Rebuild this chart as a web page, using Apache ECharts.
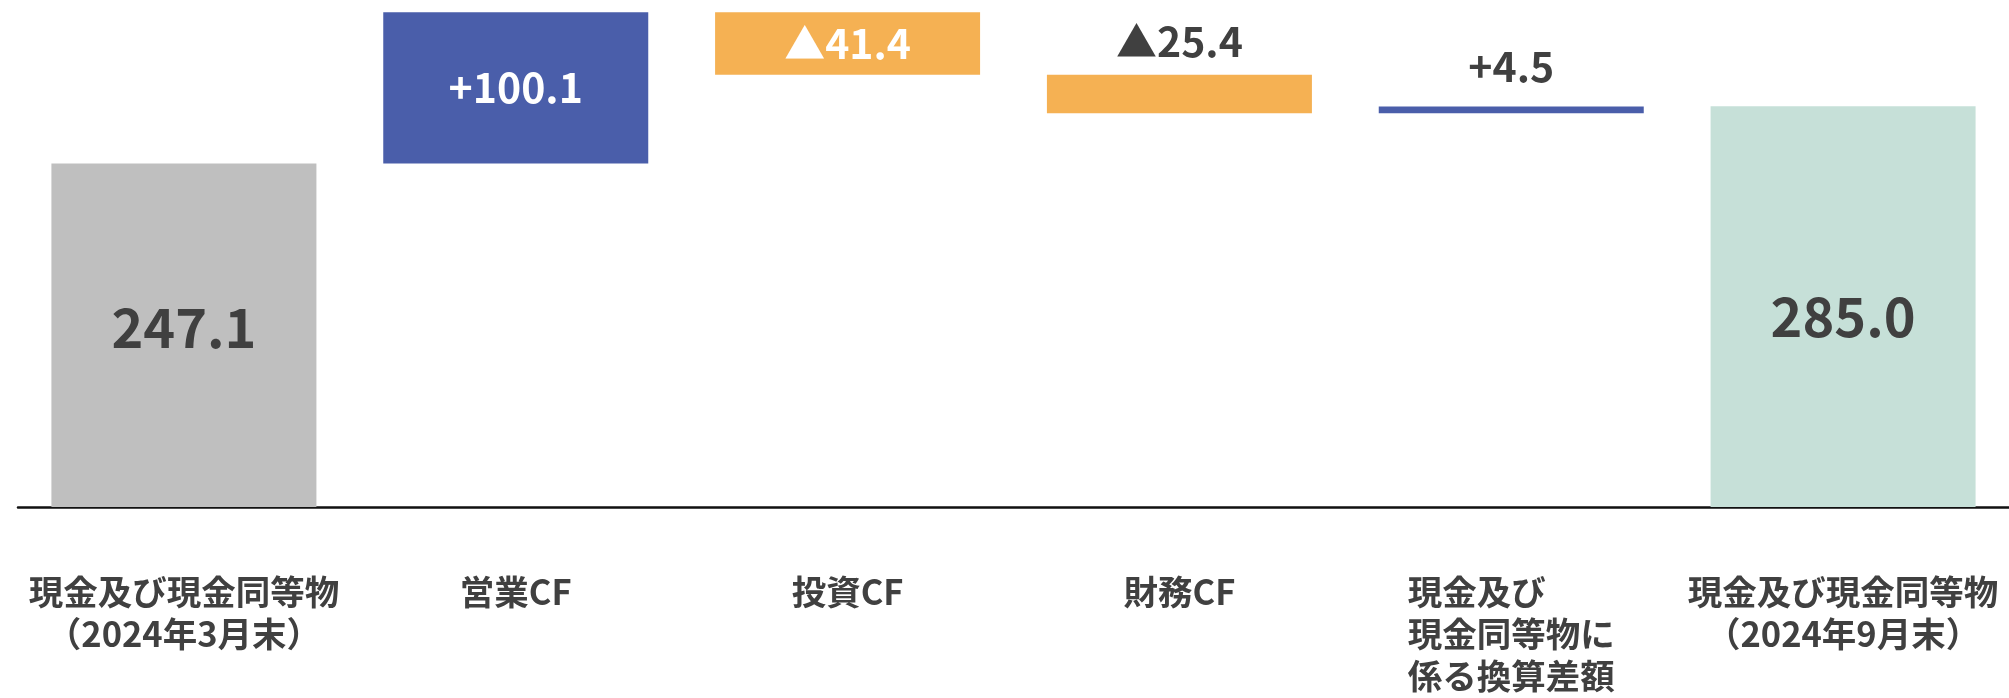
<!DOCTYPE html>
<html>
<head>
<meta charset="utf-8">
<script src="https://cdn.jsdelivr.net/npm/echarts@6/dist/echarts.min.js"></script>
<style>
  html, body { margin: 0; padding: 0; background: #ffffff; }
  #chart { width: 2009px; height: 698px; }
</style>
</head>
<body>
<div id="chart"></div>
<script>
// Cash flow bridge (億円): opening balance, movements, closing balance
const categories = [
  '現金及び現金同等物\n（2024年3月末）',
  '営業CF',
  '投資CF',
  '財務CF',
  '現金及び\n現金同等物に\n係る換算差額',
  '現金及び現金同等物\n（2024年9月末）'
];
const values = [247.1, 100.1, -41.4, -25.4, 4.5, 285.0];
const isTotal = [true, false, false, false, false, true];

const COLOR_START = '#BFBFBF';
const COLOR_END = '#C6E0D8';
const COLOR_UP = '#4A5EAA';
const COLOR_DOWN = '#F5B153';
const TEXT = '#404040';
const FONT = '"Noto Sans CJK JP", "Noto Sans", sans-serif';

// Floating bars: invisible base + visible segment
const baseData = [];
const barData = [];
let running = 0;
values.forEach((v, i) => {
  if (isTotal[i]) {
    baseData.push(0);
    running = v;
    barData.push(v);
  } else {
    const next = running + v;
    baseData.push(Math.min(running, next));
    barData.push(Math.abs(v));
    running = next;
  }
});

function labelText(i) {
  const v = values[i];
  if (isTotal[i]) return v.toFixed(1);
  return (v > 0 ? '+' : '▲') + Math.abs(v).toFixed(1);
}

const barItems = barData.map((h, i) => {
  const v = values[i];
  const color = i === 0 ? COLOR_START : (i === values.length - 1 ? COLOR_END : (v > 0 ? COLOR_UP : COLOR_DOWN));
  const thin = !isTotal[i] && Math.abs(v) < 30;
  const label = isTotal[i]
    ? { position: 'inside', color: TEXT, fontSize: 54, offset: [0, i === 0 ? -8 : 10] }
    : thin
      ? { position: 'top', color: TEXT, fontSize: 41, distance: v > 0 ? 20 : 13 }
      : { position: 'inside', color: '#ffffff', fontSize: 41 };
  return { value: h, itemStyle: { color: color }, label: label };
});

const chart = echarts.init(document.getElementById('chart'), null, { renderer: 'canvas' });
chart.setOption({
  animation: false,
  backgroundColor: '#ffffff',
  grid: { left: 18, right: 0, top: 8, bottom: 191, containLabel: false, outerBoundsMode: 'none' },
  xAxis: {
    type: 'category',
    data: categories,
    axisLine: { show: true, lineStyle: { color: '#111111', width: 2.5 } },
    axisTick: { show: false },
    axisLabel: {
      interval: 0,
      margin: 64,
      color: TEXT,
      fontFamily: FONT,
      fontWeight: 'bold',
      fontSize: 34.5,
      lineHeight: 42,
      formatter: function (text, idx) {
        if (idx === 4) return text.split('\n').map(s => '{l|' + s + '}').join('\n');
        return text;
      },
      rich: {
        l: { align: 'left', color: TEXT, fontFamily: FONT, fontWeight: 'bold', fontSize: 34.5, lineHeight: 42 }
      }
    }
  },
  yAxis: {
    type: 'value',
    min: 20,
    max: 350,
    show: false,
    splitLine: { show: false }
  },
  series: [
    {
      name: 'base',
      type: 'bar',
      stack: 'flow',
      barWidth: 265,
      itemStyle: { color: 'transparent' },
      emphasis: { disabled: true },
      data: baseData
    },
    {
      name: 'amount',
      type: 'bar',
      stack: 'flow',
      barWidth: 265,
      label: {
        show: true,
        fontFamily: FONT,
        fontWeight: 'bold',
        formatter: p => labelText(p.dataIndex)
      },
      data: barItems
    }
  ]
});
</script>
</body>
</html>
